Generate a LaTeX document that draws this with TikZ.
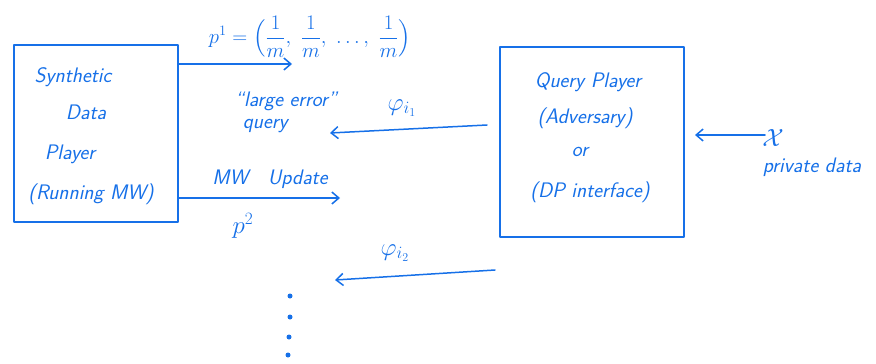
\documentclass[tikz,border=0pt]{standalone}
\usepackage{fontspec}
\usepackage{amsmath}
\usetikzlibrary{arrows.meta}
\definecolor{ink}{RGB}{22,112,232}
\tikzset{
  pen/.style={draw=ink, line width=1.5pt, line cap=round, line join=round},
  arr/.style={pen, -{Straight Barb[length=7pt,width=12pt,line width=1.5pt]}},
  hand/.style={text=ink, font=\fontsize{21}{25}\selectfont\sffamily\itshape, inner sep=0pt},
  handmath/.style={text=ink, font=\fontsize{24}{28}\selectfont, inner sep=0pt},
  playerbox/.style={pen, rectangle, inner sep=0pt},
  dot/.style={circle, fill=ink, inner sep=0pt, minimum size=5pt}
}
\begin{document}
\begin{tikzpicture}[x=1pt,y=-1pt]
\useasboundingbox (0,0) rectangle (876,364);

% the two players
\node[playerbox, minimum width=164pt, minimum height=177pt] (lbox) at (96,133.5) {};
\node[playerbox, minimum width=184pt, minimum height=190pt] (rbox) at (592,142) {};

% text of the synthetic data player
\node[hand] (syn) at (73,77) {Synthetic};
\node[hand] (data) at (86,112) {Data};
\node[hand] (play) at (70,154) {Player};
\node[hand] (run) at (91,194) {(Running MW)};

% text of the query player
\node[hand] (qp) at (588,82) {Query Player};
\node[hand] (adv) at (585,118) {(Adversary)};
\node[hand] (or) at (580,152) {or};
\node[hand] (dpi) at (590,192) {(DP interface)};

% private data input
\node[handmath] (xin) at (773,138) {$\mathcal{X}$};
\node[hand] (priv) at (812,167) {private data};
\coordinate (xs) at (765,135);
\coordinate (xe) at (695,135);
\draw[arr] (xs) -- (xe);

% first distribution
\coordinate (p1e) at (292,64);
\draw[arr] (lbox.east |- p1e) -- (p1e);
\node[handmath, font=\fontsize{20}{24}\selectfont] (p1) at (310,37)
  {$\displaystyle p^1 = \Bigl(\frac{1}{m},\ \frac{1}{m},\ \ldots,\ \frac{1}{m}\Bigr)$};

% first query
\coordinate (q1s) at (487,125);
\coordinate (q1e) at (330,133);
\draw[arr] (q1s) -- (q1e);
\node[handmath] (phi1) at (402,108) {$\varphi_{i_1}$};
\node[hand, align=left] (lq) at (286,112) {``large error''\\[-3pt]\hspace*{8pt}query};

% MW update
\coordinate (p2e) at (340,198);
\draw[arr] (lbox.east |- p2e) -- (p2e);
\node[hand] (mw) at (270,179) {MW \ \ Update};
\node[handmath] (p2) at (243,226) {$p^2$};

% second query
\coordinate (q2s) at (495,270);
\coordinate (q2e) at (335,280);
\draw[arr] (q2s) -- (q2e);
\node[handmath] (phi2) at (395,253) {$\varphi_{i_2}$};

% continuation dots
\node[dot] (d1) at (290,296) {};
\node[dot] (d2) at (290,317) {};
\node[dot] (d3) at (289,337) {};
\node[dot] (d4) at (288,355) {};
\end{tikzpicture}
\end{document}
